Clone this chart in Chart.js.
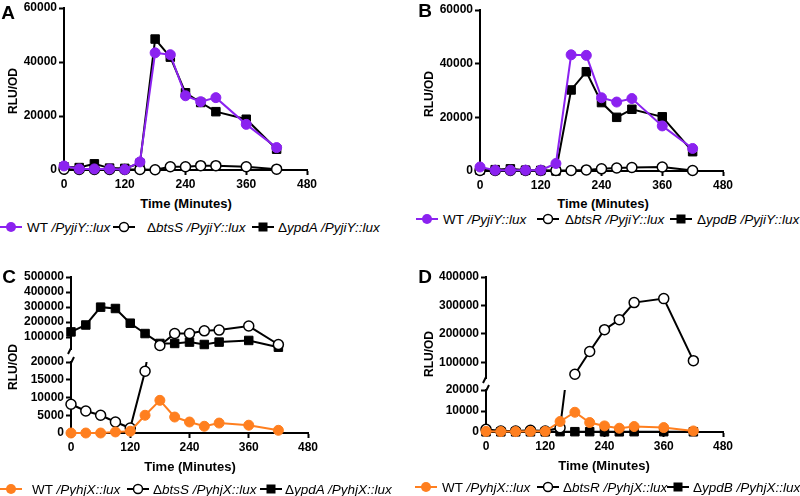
<!DOCTYPE html>
<html>
<head>
<meta charset="utf-8">
<script src="https://cdn.jsdelivr.net/npm/chart.js@4.4.1/dist/chart.umd.min.js"></script>
<style>
body{margin:0;background:#fff;width:800px;height:496px;position:relative;overflow:hidden;font-family:"Liberation Sans",Arial,sans-serif;color:#000;}
canvas{position:absolute;}
svg{position:absolute;}
.t{position:absolute;white-space:nowrap;}
.letra{font-weight:bold;font-size:19px;transform:translate(-50%,-50%);}
.xt{font-weight:bold;font-size:13px;transform:translate(-50%,-50%);}
.yt{font-weight:bold;font-size:12px;transform:translate(-50%,-50%) rotate(-90deg);}
.lg{font-size:13.5px;transform:translateY(-50%);}
</style>
</head>
<body>
<canvas id="cA" width="321" height="200" style="left:0px;top:-6px"></canvas>
<canvas id="cB" width="337" height="199" style="left:400px;top:-4px"></canvas>
<canvas id="cCtop" width="322" height="100" style="left:0px;top:263px"></canvas>
<canvas id="cClow" width="322" height="109" style="left:0px;top:348px"></canvas>
<canvas id="cDtop" width="337" height="129" style="left:400px;top:263px"></canvas>
<canvas id="cDlow" width="337" height="80" style="left:400px;top:376px"></canvas>

<div class="t letra" style="left:8px;top:13px">A</div>
<div class="t letra" style="left:425px;top:11px">B</div>
<div class="t letra" style="left:9px;top:277px">C</div>
<div class="t letra" style="left:425px;top:277px">D</div>

<div class="t yt" style="left:13px;top:91px">RLU/OD</div>
<div class="t yt" style="left:429px;top:94px">RLU/OD</div>
<div class="t yt" style="left:13px;top:367px">RLU/OD</div>
<div class="t yt" style="left:429px;top:354px">RLU/OD</div>

<div class="t xt" style="left:186px;top:203px">Time (Minutes)</div>
<div class="t xt" style="left:603px;top:203px">Time (Minutes)</div>
<div class="t xt" style="left:190px;top:466px">Time (Minutes)</div>
<div class="t xt" style="left:604px;top:465px">Time (Minutes)</div>

<div id="leyendas"></div>

<script>
'use strict'

//tiempos (minutos)
let times = [0, 30, 60, 90, 120, 150, 180, 210, 240, 270, 300, 360, 420];
let xTicks = [0, 120, 240, 360, 480];

//Panel A - PyjiY::lux
let aWT   = [1500, 400, 400, 400, 200, 3000, 43400, 42700, 27500, 25300, 26800, 16900, 8300];
let aBtsS = [300, 200, 200, 200, 200, 200, 100, 1200, 1200, 1600, 1600, 1200, 300];
let aYpdA = [1200, 900, 2300, 700, 600, 2500, 48500, 41800, 28600, 25000, 21600, 18800, 7700];

//Panel B - PyjiY::lux
let bWT   = [1500, 300, 300, 300, 300, 2800, 43300, 43100, 27300, 25700, 27000, 16800, 8400];
let bBtsR = [200, 200, 200, 200, 200, 200, 200, 400, 800, 1100, 1300, 1500, 200];
let bYpdB = [300, 500, 800, 300, 200, 0, 30200, 37000, 25500, 20000, 23000, 20200, 7200];

//Panel C - PyhjX::lux
let cWT   = [0, 0, 0, 300, 500, 5000, 9200, 4500, 3100, 1900, 2800, 2200, 760];
let cBtsS = [8100, 6200, 5000, 3100, 1400, 17400, 43000, 123000, 123000, 141000, 146000, 173000, 50000];
let cYpdA = [134000, 180000, 299000, 290000, 192000, 123000, 57000, 57000, 66000, 50000, 66000, 77000, 32000];

//Panel D - PyhjX::lux
let dWT   = [300, 200, 200, 300, 300, 5000, 9400, 4500, 2900, 1800, 2600, 2100, 500];
let dBtsR = [1300, 500, 500, 800, 500, 2000, 58000, 138000, 215000, 250000, 310000, 324000, 106000];
let dYpdB = [100, 100, 100, 100, 100, 150, 150, 150, 100, 100, 150, 150, 100];

//ticks eje y
let abTicks = [0, 20000, 40000, 60000];
let cTopTicks = [100000, 200000, 300000, 400000, 500000];
let cLowTicks = [0, 5000, 10000, 15000, 20000];
let dTopTicks = [100000, 200000, 300000, 400000];
let dLowTicks = [0, 10000, 20000];

let purple = '#8B22F0';
let orange = '#FF7F1F';

Chart.defaults.font.family = '"Liberation Sans", Arial, sans-serif';
Chart.defaults.color = '#000';

//marca de corte del eje y
const corte = {
    id: 'corte',
    afterDraw(chart, args, opts){
        if(!opts.en) return;
        const ctx = chart.ctx, a = chart.chartArea, x = a.left;
        ctx.save();
        ctx.strokeStyle = '#000';
        ctx.lineWidth = 2;
        ctx.beginPath();
        if(opts.en === 'abajo'){
            ctx.moveTo(x, a.bottom - 1);
            ctx.lineTo(x - 3, a.bottom + 5);
        } else {
            ctx.moveTo(x, a.top + 1);
            ctx.lineTo(x + 3, a.top - 5);
        }
        ctx.stroke();
        ctx.restore();
    }
};

function estilo(kind, color){
    if(kind === 'wt') return {borderColor: color, backgroundColor: color, pointStyle: 'circle', pointRadius: 5, pointBorderWidth: 1};
    if(kind === 'open') return {borderColor: '#000', backgroundColor: '#fff', pointStyle: 'circle', pointRadius: 5, pointBorderWidth: 1.5};
    return {borderColor: '#000', backgroundColor: '#000', pointStyle: 'rect', pointRadius: 6, pointBorderWidth: 1};
}

function serie(vals, kind, color, modo, yMin){
    let data = times.map((t, i) => ({x: t, y: (modo === 'top' && vals[i] < yMin) ? null : vals[i]}));
    let clip = 12;
    if(modo === 'top') clip = {left: 12, right: 12, top: 12, bottom: 8};
    if(modo === 'low') clip = {left: 12, right: 12, top: 0, bottom: 12};
    return Object.assign({data: data, borderWidth: 2, tension: 0, clip: clip}, estilo(kind, color));
}

function grafica(id, sets, cfg){
    const grid = {drawOnChartArea: false, drawTicks: true, tickLength: 5, tickColor: '#000', tickWidth: 2};
    const border = {display: true, color: '#000', width: 2};
    const font = {size: 12, weight: 'bold'};
    return new Chart(document.getElementById(id), {
        type: 'line',
        data: {datasets: sets},
        options: {
            responsive: false,
            animation: false,
            events: [],
            layout: {padding: {left: 0, top: 14, right: 14, bottom: cfg.conX ? 2 : 14}},
            plugins: {legend: {display: false}, tooltip: {enabled: false}, corte: {en: cfg.corte}},
            scales: {
                x: {
                    type: 'linear', min: 0, max: 480, display: cfg.conX,
                    afterBuildTicks: s => { s.ticks = xTicks.map(v => ({value: v})); },
                    afterFit: s => { if(cfg.conX) s.height = 22; },
                    grid: grid, border: border,
                    ticks: {color: '#000', padding: 2, font: font, autoSkip: false, maxRotation: 0, callback: v => String(v)}
                },
                y: {
                    type: 'linear', min: cfg.yMin, max: cfg.yMax,
                    afterBuildTicks: s => { s.ticks = cfg.yTicks.map(v => ({value: v})); },
                    afterFit: s => { s.width = cfg.yWidth; },
                    grid: grid, border: border,
                    ticks: {color: '#000', padding: 2, font: font, autoSkip: false, callback: v => String(v)}
                }
            }
        },
        plugins: [corte]
    });
}

//A y B
grafica('cA', [serie(aWT, 'wt', purple), serie(aBtsS, 'open'), serie(aYpdA, 'sq')],
    {conX: true, yMin: 0, yMax: 60000, yTicks: abTicks, yWidth: 64});
grafica('cB', [serie(bWT, 'wt', purple), serie(bBtsR, 'open'), serie(bYpdB, 'sq')],
    {conX: true, yMin: 0, yMax: 60000, yTicks: abTicks, yWidth: 80});

//C (eje cortado)
grafica('cCtop', [serie(cWT, 'wt', orange, 'top', 20000), serie(cBtsS, 'open', null, 'top', 20000), serie(cYpdA, 'sq', null, 'top', 20000)],
    {conX: false, yMin: 20000, yMax: 500000, yTicks: cTopTicks, yWidth: 71, corte: 'abajo'});
grafica('cClow', [serie(cWT, 'wt', orange, 'low'), serie(cBtsS, 'open', null, 'low'), serie(cYpdA, 'sq', null, 'low')],
    {conX: true, yMin: 0, yMax: 20000, yTicks: cLowTicks, yWidth: 71, corte: 'arriba'});

//D (eje cortado)
grafica('cDtop', [serie(dWT, 'wt', orange, 'top', 45000), serie(dBtsR, 'open', null, 'top', 45000), serie(dYpdB, 'sq', null, 'top', 45000)],
    {conX: false, yMin: 45000, yMax: 400000, yTicks: dTopTicks, yWidth: 86, corte: 'abajo'});
grafica('cDlow', [serie(dWT, 'wt', orange, 'low'), serie(dBtsR, 'open', null, 'low'), serie(dYpdB, 'sq', null, 'low')],
    {conX: true, yMin: 0, yMax: 20000, yTicks: dLowTicks, yWidth: 86, corte: 'arriba'});

//Leyendas html
function simbolo(kind, color){
    let line = '<line x1="0" y1="6" x2="22" y2="6" stroke="' + (color || '#000') + '" stroke-width="2"/>';
    let mark;
    if(kind === 'wt') mark = '<circle cx="11" cy="6" r="5" fill="' + color + '"/>';
    else if(kind === 'open') mark = '<circle cx="11" cy="6" r="4.5" fill="#fff" stroke="#000" stroke-width="1.5"/>';
    else mark = '<rect x="6.5" y="1.5" width="9" height="9" fill="#000"/>';
    return line + mark;
}

function leyenda(y, items){
    let cont = document.getElementById('leyendas');
    items.forEach(it => {
        let svg = document.createElementNS('http://www.w3.org/2000/svg', 'svg');
        svg.setAttribute('width', '22');
        svg.setAttribute('height', '12');
        svg.style.left = it[0] + 'px';
        svg.style.top = (y - 6) + 'px';
        svg.innerHTML = simbolo(it[2], it[3]);
        cont.appendChild(svg);
        let d = document.createElement('div');
        d.className = 't lg';
        d.style.left = it[1] + 'px';
        d.style.top = y + 'px';
        d.innerHTML = it[4];
        cont.appendChild(d);
    });
}

leyenda(227, [
    [0, 27, 'wt', purple, 'WT <i>/PyjiY::lux</i>'],
    [113, 147, 'open', null, 'Δ<i>btsS /PyjiY::lux</i>'],
    [252, 278, 'sq', null, 'Δ<i>ypdA /PyjiY::lux</i>']
]);
leyenda(219, [
    [416, 443, 'wt', purple, 'WT <i>/PyjiY::lux</i>'],
    [537, 565, 'open', null, 'Δ<i>btsR /PyjiY::lux</i>'],
    [670, 697, 'sq', null, 'Δ<i>ypdB /PyjiY::lux</i>']
]);
leyenda(489, [
    [0, 32, 'wt', orange, 'WT <i>/PyhjX::lux</i>'],
    [127, 153, 'open', null, 'Δ<i>btsS /PyhjX::lux</i>'],
    [260, 285, 'sq', null, 'Δ<i>ypdA /PyhjX::lux</i>']
]);
leyenda(487, [
    [415, 442, 'wt', orange, 'WT <i>/PyhjX::lux</i>'],
    [537, 563, 'open', null, 'Δ<i>btsR /PyhjX::lux</i>'],
    [667, 693, 'sq', null, 'Δ<i>ypdB /PyhjX::lux</i>']
]);
</script>
</body>
</html>
